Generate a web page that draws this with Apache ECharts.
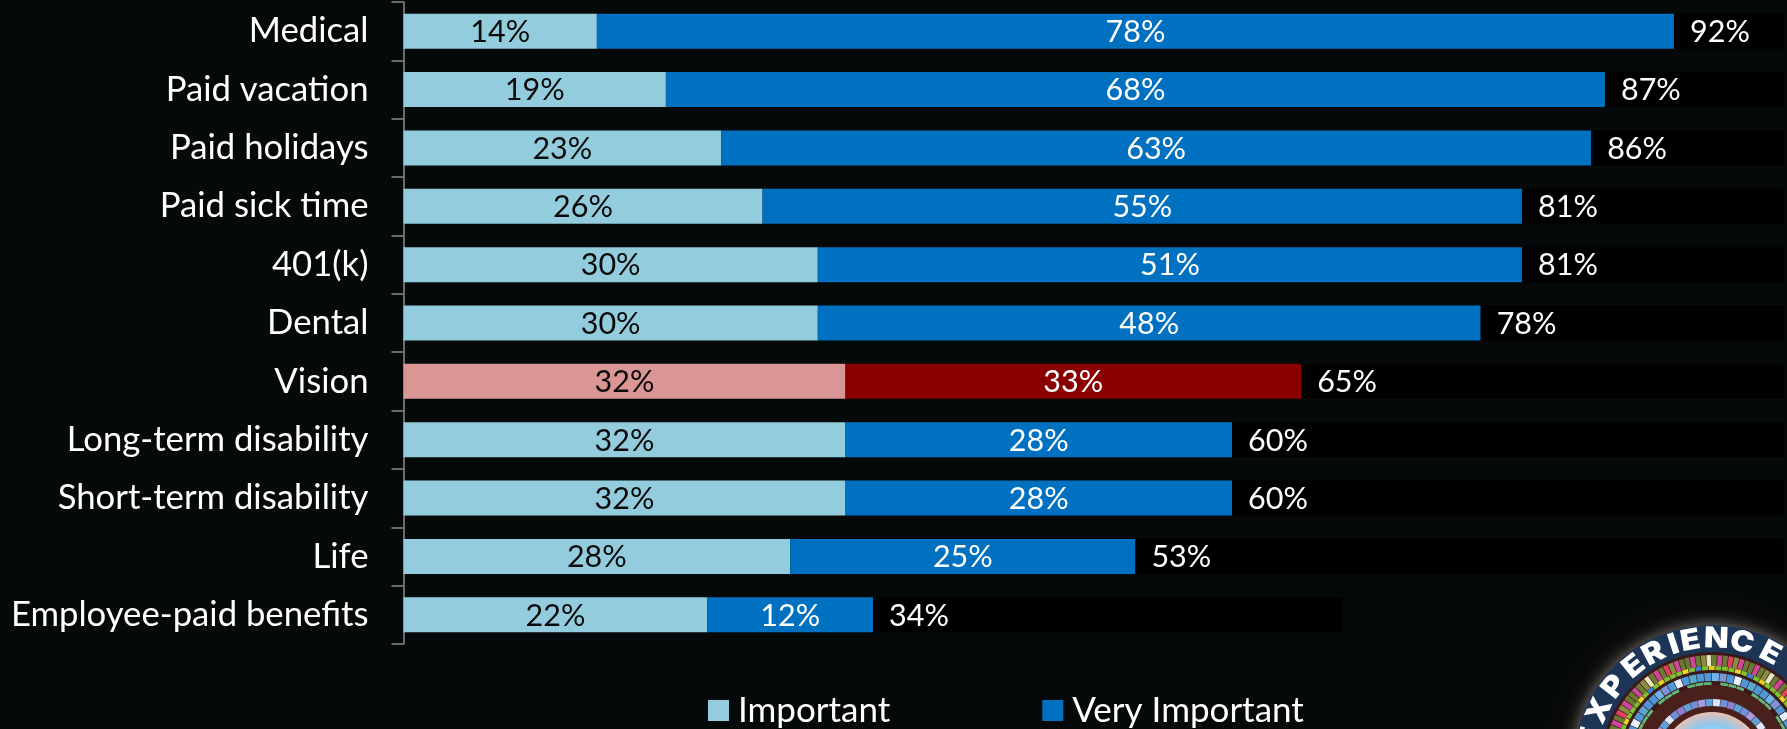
<!DOCTYPE html>
<html><head><meta charset="utf-8">
<style>html,body{margin:0;padding:0;background:#060909}#c{width:1787px;height:729px}</style>
<script src="https://cdn.jsdelivr.net/npm/echarts@6/dist/echarts.min.js"></script>
</head><body><div id="c"></div>
<script>
const categories=['Medical','Paid vacation','Paid holidays','Paid sick time','401(k)','Dental','Vision','Long-term disability','Short-term disability','Life','Employee-paid benefits'];
const important=[14,19,23,26,30,30,32,32,32,28,22];
const veryImportant=[78,68,63,55,51,48,33,28,28,25,12];
const totals=[92,87,86,81,81,78,65,60,60,53,34];
const blank=[8,13,14,19,19,22,35,40,40,47,34];
const highlighted=['Vision'];
const FONT='Lato';
const LIGHT='#93CDDD',BLUE='#0070C0',PINK='#D99694',RED='#8A0000';
const logoLetters=['E','X','P','E','R','I','E','N','C','E'];
const logoAngles=[-78,-65,-52,-39,-28,-18,-10,2,14,28];
const outerPalette=['#6b7a35','#6b7a35','#d0469a','#6b7a35','#8a8f40','#e8e8c0','#6b7a35','#d0469a','#6b7a35','#e04060','#8a8f40','#d0469a'];
const greenPalette=['#7cc22e','#7cc22e','#f0d820','#7cc22e','#3f7fd0','#7cc22e','#e8d020','#7cc22e'];
const bluePalette=['#4f97d8','#4f97d8','#6fb4e8','#7d93d8','#4f97d8','#e8f0ff','#4f97d8','#58a8c8'];
const innerPalette=['#6f8fd8','#8a7fd0','#5fa0d8','#6f8fd8','#a89be0','#5fa0d8','#d8e8ff'];

const chart=echarts.init(document.getElementById('c'),null,{renderer:'canvas'});
const cx=1712,cy=763;
function band(r0,r,fill){return {type:'sector',silent:true,shape:{cx,cy,r0,r,startAngle:0,endAngle:Math.PI*2},style:{fill}};}
function segments(r0,r,palette,step){
  const out=[];
  for(let i=0;i*step<180;i++){
    const s=(180+i*step)*Math.PI/180,e=(180+(i+1)*step-0.4)*Math.PI/180;
    out.push({type:'sector',silent:true,shape:{cx,cy,r0,r,startAngle:s,endAngle:e},style:{fill:palette[i%palette.length]}});
  }
  return out;
}
const letters=logoLetters.map((ch,i)=>{
  const a=logoAngles[i]*Math.PI/180,r=124;
  return {type:'text',silent:true,x:cx+r*Math.sin(a),y:cy-r*Math.cos(a),rotation:-a,scaleX:1.1,
    style:{text:ch,fill:'#fff',font:'900 29px Inter',align:'center',verticalAlign:'middle'}};
});
const logo=[
 {type:'rect',silent:true,shape:{x:1300,y:480,width:487,height:249},
  style:{fill:new echarts.graphic.RadialGradient(0.845,1.13,0.75,[{offset:0,color:'rgba(90,55,45,0.55)'},{offset:0.45,color:'rgba(40,24,20,0.6)'},{offset:1,color:'rgba(6,9,9,0)'}])}},
 {type:'circle',silent:true,shape:{cx,cy,r:138},style:{fill:'#1d3658',shadowBlur:16,shadowColor:'rgba(255,235,225,0.5)'}},
 band(0,111,'#3a1a18'),
 ...segments(97,108,outerPalette,3),
 ...segments(93,97,greenPalette,4),
 ...segments(82,90,bluePalette,5),
 ...segments(78,81,['#5fb878','#5fb878','#5fb878','#3a1a18'],6),
 band(0,78,'#4a201c'),
 ...segments(57,64,innerPalette,7),
 {type:'circle',silent:true,shape:{cx,cy,r:51},style:{fill:new echarts.graphic.RadialGradient(0.5,0.5,0.5,[{offset:0,color:'#ffffff'},{offset:0.75,color:'#8cc8f2'},{offset:1,color:'#e8c0b0'}])}},
 ...letters
];
const dataOf=(vals,normal,hi)=>vals.map((v,i)=>({value:v,itemStyle:{color:highlighted.includes(categories[i])?hi:normal}}));
const labelBase={show:true,position:'inside',fontFamily:FONT,fontSize:30.5,offset:[0,1],formatter:p=>p.value+'%'};
chart.setOption({
 animation:false,backgroundColor:'#060909',
 graphic:logo,
 grid:{left:403.5,top:2,width:1381,height:642,containLabel:false},
 legend:{left:703,top:688,data:['Important','Very Important'],icon:'rect',itemWidth:21,itemHeight:21,itemGap:152,
   textStyle:{color:'#fff',fontFamily:FONT,fontSize:35,padding:[0,0,0,4]}},
 xAxis:{type:'value',min:0,max:100,show:false},
 yAxis:{type:'category',inverse:true,data:categories,
   axisLine:{show:true,lineStyle:{color:'#8c8c8c',width:1.5}},
   axisTick:{show:true,length:12,lineStyle:{color:'#8c8c8c',width:1.5}},
   axisLabel:{color:'#fff',fontFamily:FONT,fontSize:34.7,margin:35}},
 series:[
  {name:'Important',type:'bar',stack:'t',barWidth:35,itemStyle:{color:LIGHT},data:dataOf(important,LIGHT,PINK),
   label:{...labelBase,color:'#0a0a0a'}},
  {name:'Very Important',type:'bar',stack:'t',barWidth:35,itemStyle:{color:BLUE},data:dataOf(veryImportant,BLUE,RED),
   label:{...labelBase,color:'#fff'}},
  {name:'Total',type:'bar',stack:'t',barWidth:35,itemStyle:{color:'#000'},data:blank,
   label:{show:true,position:'insideLeft',distance:16,offset:[0,1],color:'#fff',fontFamily:FONT,fontSize:30.5,formatter:p=>totals[p.dataIndex]+'%'}}
 ]
});
</script></body></html>
